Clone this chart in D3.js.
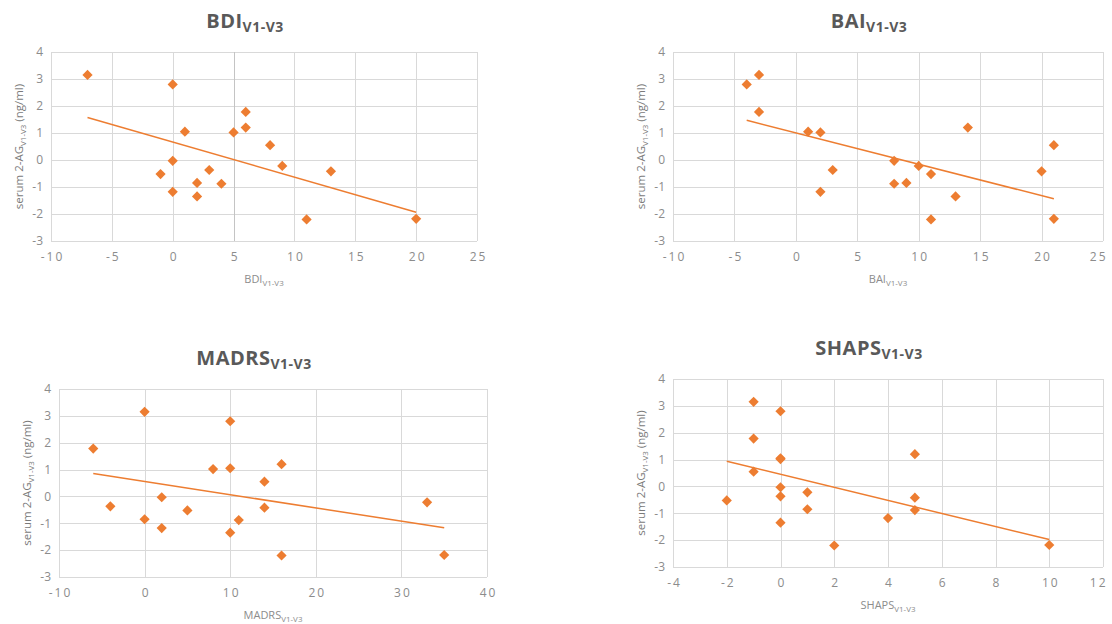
<!DOCTYPE html>
<html>
<head>
<meta charset="utf-8">
<script src="https://cdn.jsdelivr.net/npm/d3@7"></script>
<style>
  html, body { margin: 0; padding: 0; background: #fff; }
  svg { display: block; }
  text { font-family: "Open Sans", "Noto Sans", sans-serif; }
  .xtick text { letter-spacing: 2px; }
</style>
</head>
<body>
<svg id="chart" width="1112" height="624"></svg>
<script>
// Change in serum 2-AG (ng/ml) between visits V1 and V3, against change in each scale score
const bdiX    = [-7, 0, 1, 5, 6, 6, 8, 9, 13, 0, -1, 3, 2, 4, 0, 2, 11, 20];
const bdiY    = [3.15, 2.8, 1.05, 1.02, 1.78, 1.2, 0.55, -0.22, -0.42, -0.03, -0.52, -0.37, -0.85, -0.88, -1.18, -1.35, -2.2, -2.18];

const baiX    = [-4, -3, -3, 1, 2, 2, 3, 8, 8, 9, 10, 11, 11, 13, 14, 20, 21, 21];
const baiY    = [2.8, 3.15, 1.78, 1.05, 1.02, -1.18, -0.37, -0.03, -0.88, -0.85, -0.22, -0.52, -2.2, -1.35, 1.2, -0.42, 0.55, -2.18];

const madrsX  = [-6, -4, 0, 0, 2, 2, 5, 8, 10, 10, 10, 11, 14, 14, 16, 16, 33, 35];
const madrsY  = [1.78, -0.37, 3.15, -0.85, -0.03, -1.18, -0.52, 1.02, 2.8, 1.05, -1.35, -0.88, 0.55, -0.42, 1.2, -2.2, -0.22, -2.18];

const shapsX  = [-2, -1, -1, -1, 0, 0, 0, 0, 0, 0, 1, 1, 2, 4, 5, 5, 5, 10];
const shapsY  = [-0.52, 3.15, 1.78, 0.55, 2.8, 1.05, 1.02, -0.03, -0.37, -1.35, -0.22, -0.85, -2.2, -1.18, 1.2, -0.42, -0.88, -2.18];

// Axis ticks
const yTicks      = [-3, -2, -1, 0, 1, 2, 3, 4];
const bdiTicks    = [-10, -5, 0, 5, 10, 15, 20, 25];
const baiTicks    = [-10, -5, 0, 5, 10, 15, 20, 25];
const madrsTicks  = [-10, 0, 10, 20, 30, 40];
const shapsTicks  = [-4, -2, 0, 2, 4, 6, 8, 10, 12];

const ORANGE = "#ED7D31";
const GRID = "#d9d9d9";
const TEXT = "#8c8c8c";
const W = 1112;

const svg = d3.select("#chart");

const panels = [
  { name: "BDI",   xs: bdiX,   ys: bdiY,   ticks: bdiTicks,   box: [51, 52, 477, 241],   axisLine: 5 },
  { name: "BAI",   xs: baiX,   ys: baiY,   ticks: baiTicks,   box: [673, 52, 1103, 241] },
  { name: "MADRS", xs: madrsX, ys: madrsY, ticks: madrsTicks, box: [59, 389, 487, 577] },
  { name: "SHAPS", xs: shapsX, ys: shapsY, ticks: shapsTicks, box: [673, 379, 1103, 567] }
];

// Ordinary least-squares fit used for the linear trendline
function fit(xs, ys) {
  const mx = d3.mean(xs), my = d3.mean(ys);
  let sxy = 0, sxx = 0;
  xs.forEach((x, i) => { sxy += (x - mx) * (ys[i] - my); sxx += (x - mx) * (x - mx); });
  const b = sxy / sxx;
  return { slope: b, intercept: my - b * mx };
}

// plain hyphen-minus for negative tick values
const fmt = d => String(d);

panels.forEach(p => {
  const [x0, y0, x1, y1] = p.box;
  const x = d3.scaleLinear().domain(d3.extent(p.ticks)).range([x0, x1]);
  const y = d3.scaleLinear().domain(d3.extent(yTicks)).range([y1, y0]);
  const g = svg.append("g");

  // horizontal gridlines
  g.append("g").attr("transform", `translate(${x0},0)`)
    .call(d3.axisLeft(y).tickValues(yTicks).tickSize(-(x1 - x0)).tickFormat(""))
    .call(a => a.select(".domain").remove())
    .call(a => a.selectAll("line").attr("stroke", GRID).attr("shape-rendering", "crispEdges"));

  // vertical gridlines
  g.append("g").attr("transform", `translate(0,${y1})`)
    .call(d3.axisBottom(x).tickValues(p.ticks).tickSize(-(y1 - y0)).tickFormat(""))
    .call(a => a.select(".domain").remove())
    .call(a => a.selectAll("line")
      .attr("stroke", d => d === p.axisLine ? "#c4c4c4" : GRID)
      .attr("shape-rendering", "crispEdges"));

  // y tick labels
  const yAx = g.append("g").attr("transform", `translate(${x0},0)`)
    .call(d3.axisLeft(y).tickValues(yTicks).tickSize(0).tickPadding(8).tickFormat(fmt));
  yAx.select(".domain").remove();
  yAx.selectAll("text").attr("fill", TEXT).attr("font-size", 12)
    .style("font-family", "'Open Sans', sans-serif");

  // x tick labels, kept inside the page's right edge
  const xAx = g.append("g").attr("class", "xtick").attr("transform", `translate(0,${y1})`)
    .call(d3.axisBottom(x).tickValues(p.ticks).tickSize(0).tickPadding(11).tickFormat(fmt));
  xAx.select(".domain").remove();
  xAx.selectAll("text").attr("fill", TEXT).attr("font-size", 12).attr("dx", 1)
    .style("font-family", "'Open Sans', sans-serif")
    .each(function(d) {
      const b = this.getBBox();
      const right = x(d) + b.x + b.width + 1;
      if (right > W - 4) d3.select(this).attr("dx", 1 - (right - (W - 4)));
    });

  // trendline over the data's x range
  const f = fit(p.xs, p.ys);
  const [lo, hi] = d3.extent(p.xs);
  g.append("line")
    .attr("x1", x(lo)).attr("y1", y(f.intercept + f.slope * lo))
    .attr("x2", x(hi)).attr("y2", y(f.intercept + f.slope * hi))
    .attr("stroke", ORANGE).attr("stroke-width", 1.5);

  // diamond markers
  const diamond = d3.symbol().type(d3.symbolSquare).size(52);
  g.append("g").selectAll("path")
    .data(p.xs.map((v, i) => [v, p.ys[i]]))
    .join("path")
    .attr("d", diamond)
    .attr("transform", d => `translate(${x(d[0])},${y(d[1])}) rotate(45)`)
    .attr("fill", ORANGE);

  const cx = (x0 + x1) / 2;

  // chart title
  const t = g.append("text")
    .attr("x", cx - 19).attr("y", y0 - 24)
    .attr("text-anchor", "middle")
    .attr("fill", "#595959").attr("font-weight", "bold").attr("font-size", 20)
    .attr("letter-spacing", "0.5px");
  t.append("tspan").text(p.name);
  t.append("tspan").attr("dy", 4).attr("font-size", 14).text("V1-V3");

  // x-axis title
  const xt = g.append("text")
    .attr("x", cx).attr("y", y1 + 42)
    .attr("text-anchor", "middle")
    .attr("fill", TEXT).attr("font-size", 11);
  xt.append("tspan").text(p.name);
  xt.append("tspan").attr("dy", 3).attr("font-size", 8).text("V1-V3");

  // y-axis title
  const yt = g.append("text")
    .attr("transform", `translate(${x0 - 28},${(y0 + y1) / 2}) rotate(-90)`)
    .attr("text-anchor", "middle")
    .attr("fill", "#7a7a7a").attr("font-size", 11.5);
  yt.append("tspan").text("serum 2-AG");
  yt.append("tspan").attr("dy", 3).attr("font-size", 8).text("V1-V3");
  yt.append("tspan").attr("dy", -3).text(" (ng/ml)");
});
</script>
</body>
</html>
